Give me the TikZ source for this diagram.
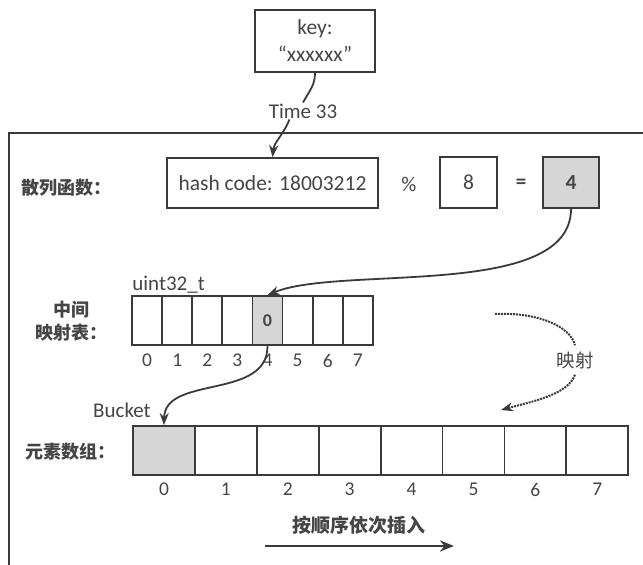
\documentclass[tikz,border=0pt]{standalone}
\usepackage{fontspec}
\setmainfont{Carlito}
\newfontfamily\cjk{Noto Sans CJK SC}
\usetikzlibrary{arrows.meta, positioning}
\definecolor{linegray}{HTML}{3A3A3A}
\definecolor{txtgray}{HTML}{454545}
\definecolor{cellgray}{HTML}{D6D6D6}

\begin{document}
\begin{tikzpicture}[
    x=1pt, y=-1pt,
    >={Stealth[length=12pt, width=9pt]},
    lbl/.style={text=txtgray, inner sep=1pt, font=\fontsize{21}{27}\selectfont},
    cnlbl/.style={text=txtgray, inner sep=1pt, align=center, font=\cjk\bfseries\fontsize{18}{23}\selectfont},
    idx/.style={text=txtgray, inner sep=1pt, font=\fontsize{19.5}{22}\selectfont},
    box/.style={draw=linegray, line width=1.8pt, text=txtgray, minimum height=50pt, inner sep=2pt, font=\fontsize{21.5}{27}\selectfont},
    mcell/.style={draw=linegray, line width=1.8pt, text=txtgray, minimum width=30.1pt, minimum height=49pt, inner sep=0pt},
    ecell/.style={draw=linegray, line width=1.8pt, minimum width=61.9pt, minimum height=49pt, inner sep=0pt},
    link/.style={->, draw=linegray, line width=1.8pt},
    maplink/.style={draw=linegray, line width=2pt, densely dotted},
  ]
  \clip (0,0) rectangle (643,565);

  % Chave
  \node[box, minimum width=120pt, minimum height=62pt, align=center] (key) at (315,41) {key:\\“xxxxxx”};
  \node[lbl] (time) at (303,111) {Time 33};

  % Moldura
  \draw[draw=linegray, line width=1.8pt] (650,133) -- (9,133) -- (9,575);

  % Funcao de hash
  \node[cnlbl] (hashlbl) at (66,188) {散列函数：};
  \node[box, minimum width=211pt] (hash) at (272.5,183) {hash code: 18003212};
  \node[lbl] (pct) at (409,184) {\%};
  \node[box, minimum width=57pt, minimum height=51pt] (mod) at (468.5,182.5) {8};
  \node[lbl, font=\bfseries\fontsize{21}{24}\selectfont] (eq) at (521,184) {=};
  \node[box, minimum width=56pt, minimum height=51pt, fill=cellgray, font=\bfseries\fontsize{21.5}{24}\selectfont] (res) at (571,182.5) {4};

  % Tabela intermediaria
  \node[cnlbl] (midlbl) at (71,321) {中间\\映射表：};
  \foreach \i in {0,...,7} {
    \node[mcell] (m\i) at ({147.1+30.1*\i},320.5) {};
    \node[idx, below=7pt of m\i] (mi\i) {\i};
  }
  \node[mcell, fill=cellgray, font=\bfseries\fontsize{18}{20}\selectfont] (m4) at (m4) {0};
  \node[lbl, above right=1pt and 0pt of m0.north west] (utype) {uint32\_t};

  % Array de elementos
  \node[cnlbl] (elemlbl) at (70,452) {元素数组：};
  \foreach \i in {0,...,7} {
    \node[ecell] (e\i) at ({163.95+61.9*\i},450.5) {};
    \node[idx, below=6pt of e\i] (ei\i) {\i};
  }
  \node[ecell, fill=cellgray] (e0) at (e0) {};
  \node[lbl, above left=6pt and 12pt of e0.north] (bkt) {Bucket};

  % Mapeamento
  \node[cnlbl, font=\cjk\fontsize{18.5}{23}\selectfont, inner sep=6pt] (mapl) at (575,360) {映射};
  \coordinate (mapS) at (495,314);
  \coordinate (mapE) at (501,410);

  % Insercao
  \node[cnlbl, font=\cjk\bfseries\fontsize{19}{23}\selectfont] (ins) at (359,525) {按顺序依次插入};
  \coordinate (insS) at (265,546);
  \coordinate (insE) at (454,546);

  % Transicoes
  \draw[draw=linegray, line width=1.8pt] (key.south) .. controls (315,85) and (310,90) .. (time.north);
  \draw[link] (time.212) .. controls (284,134) and (274,142) .. (hash.north);
  \draw[link] (res.south) .. controls (571,300) and (340,265) .. (m4.north);
  \draw[link] (m4.south) .. controls (268,400) and (165,375) .. (e0.north);
  \draw[maplink] (mapS) .. controls (535,312) and (570,325) .. (mapl.north);
  \draw[maplink, ->] (mapl.south) .. controls (568,395) and (530,402) .. (mapE);
  \draw[link, line width=2.6pt, -{Stealth[length=14pt, width=11pt]}] (insS) -- (insE);

\end{tikzpicture}
\end{document}
